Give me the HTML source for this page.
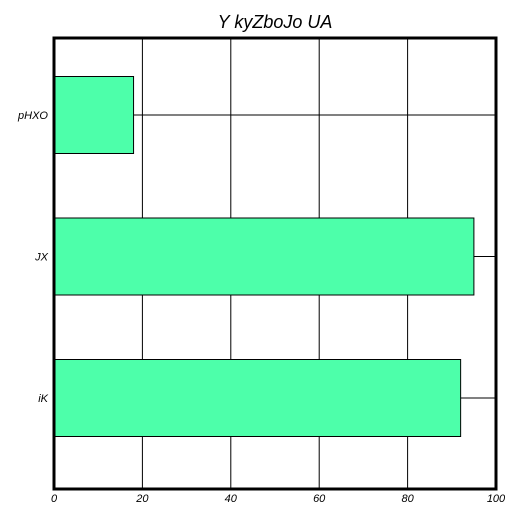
<!DOCTYPE html>
<html><head><meta charset="utf-8"><style>body{margin:0;background:#fff}svg{display:block}text{font-family:"Liberation Sans",sans-serif;font-style:italic}</style></head>
<body>
<svg id="c" width="520" height="520">
<text x="275" y="28" text-anchor="middle" font-size="18">Y kyZboJo UA</text>
</svg>
<script>
const categories = ["pHXO", "JX", "iK"];
const values = [18, 95, 92];
const ticks = [0, 20, 40, 60, 80, 100];
const svg = document.getElementById('c');
const NS = 'http://www.w3.org/2000/svg';
const L = 54, R = 496, T = 38, B = 489;
const xs = v => L + (v / 100) * (R - L);
const band = 141.5, first = 115, bh = 77;
const ys = i => first + i * band;
function mk(tag, attrs) { const e = document.createElementNS(NS, tag); for (const k in attrs) e.setAttribute(k, attrs[k]); svg.appendChild(e); return e; }
ticks.forEach(t => {
  const g = mk('line', {x1: xs(t), x2: xs(t), y1: T, y2: B, stroke: '#000', 'stroke-width': 1});
  
  
  const tx = mk('text', {x: xs(t), y: 502, 'text-anchor': 'middle', 'font-size': 11});
  tx.textContent = t;
  
  
});
categories.forEach((c, i) => {
  const gl = mk('line', {x1: L, x2: R, y1: ys(i), y2: ys(i), stroke: '#000', 'stroke-width': 1});
  
  
  const r = mk('rect', {x: L, y: ys(i) - bh / 2, width: xs(values[i]) - L, height: bh, fill: '#4dffaa', stroke: '#000', 'stroke-width': 1});
  
  
  const tx = mk('text', {x: 48, y: ys(i) + 4, 'text-anchor': 'end', 'font-size': 11});
  tx.textContent = c;
  
  
});
const f = mk('rect', {x: L, y: T, width: R - L, height: B - T, fill: 'none', stroke: '#000', 'stroke-width': 3});


</script>
</body></html>
